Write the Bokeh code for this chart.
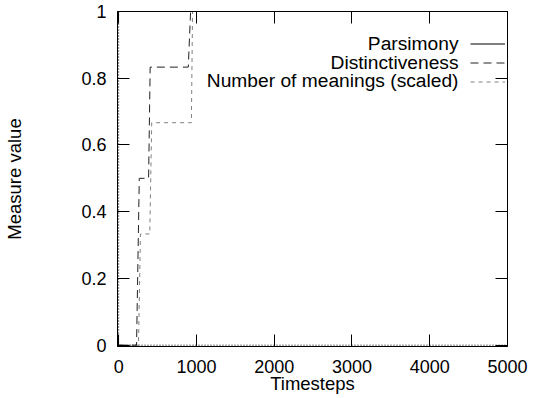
from bokeh.plotting import figure
from bokeh.models import (FixedTicker, NumeralTickFormatter, BasicTickFormatter, LinearAxis,
                          Span, Legend, LegendItem, Label, Range1d, CustomJSTickFormatter)
from bokeh.embed import file_html
from bokeh.resources import INLINE

# ---- data ----
timesteps_parsimony = [0, 5000]
parsimony = [1, 1]

timesteps_distinct = [0, 230, 265, 385, 405, 895, 925, 5000]
distinctiveness = [0, 0, 0.5, 0.5, 0.8333, 0.8333, 1, 1]

timesteps_meanings = [0, 255, 280, 400, 425, 935, 950, 5000]
meanings_scaled = [0, 0, 0.3333, 0.3333, 0.6667, 0.6667, 1, 1]

series_names = ["Parsimony", "Distinctiveness", "Number of meanings (scaled)"]
x_ticks = [0, 1000, 2000, 3000, 4000, 5000]
y_ticks = [0, 0.2, 0.4, 0.6, 0.8, 1]

FONT = "Liberation Sans"
FS = "18.5px"
TICK_FS = "18px"
LEG_FS = "19.2px"

p = figure(frame_width=390, frame_height=335, output_backend="svg", toolbar_location=None,
           x_range=Range1d(-15, 5000), y_range=Range1d(-0.004, 1),
           min_border_left=117, min_border_right=47, min_border_top=11, min_border_bottom=52,
           x_axis_label="Timesteps", y_axis_label="Measure value")
p.background_fill_color = "white"
p.border_fill_color = "white"
p.outline_line_color = "black"
p.outline_line_width = 1
p.xgrid.visible = False
p.ygrid.visible = False

for ax, ticks in ((p.xaxis[0], x_ticks), (p.yaxis[0], y_ticks)):
    ax.ticker = FixedTicker(ticks=ticks)
    ax.major_tick_in = 12
    ax.major_tick_out = 0
    ax.minor_tick_line_color = None
    ax.major_tick_line_color = "black"
    ax.axis_line_color = "black"
    ax.major_label_text_font = FONT
    ax.major_label_text_font_size = TICK_FS
    ax.major_label_text_color = "black"
    ax.axis_label_text_font = FONT
    ax.axis_label_text_font_size = FS
    ax.axis_label_text_font_style = "normal"
    ax.axis_label_text_color = "black"

p.yaxis[0].formatter = NumeralTickFormatter(format="0.[0]")
p.xaxis[0].formatter = BasicTickFormatter(use_scientific=False)
p.yaxis[0].major_label_standoff = 11
p.yaxis[0].axis_label_standoff = 53
p.xaxis[0].major_label_standoff = 13
p.xaxis[0].axis_label_standoff = -3

# mirror ticks (right / top), no labels
for side, ticks in (("right", y_ticks), ("above", x_ticks)):
    ax = LinearAxis(ticker=FixedTicker(ticks=ticks), major_tick_in=12, major_tick_out=0,
                    minor_tick_line_color=None, major_label_text_font_size="1px",
                    formatter=CustomJSTickFormatter(code="return ''"),
                    major_label_standoff=0, axis_line_color="black")
    p.add_layout(ax, side)

# zero axes (dotted)
p.add_layout(Span(location=0, dimension="height", line_color="black", line_width=1, line_dash="1 2"))
p.add_layout(Span(location=0, dimension="width", line_color="black", line_width=1, line_dash="1 2"))

r_meanings = p.line(timesteps_meanings, meanings_scaled, line_color="#808080", line_width=1,
                    line_dash="4 4")
r_distinct = p.line(timesteps_distinct, distinctiveness, line_color="#222222", line_width=1,
                    line_dash="8 5")
r_pars = p.line(timesteps_parsimony, parsimony, line_color="black", line_width=1)

legend = Legend(items=[LegendItem(label=" ", renderers=[r]) for r in (r_pars, r_distinct, r_meanings)],
                location=(353, 255), orientation="vertical", glyph_width=35, glyph_height=19,
                label_height=1, label_width=1, label_standoff=0, label_text_font_size="1px",
                spacing=0, padding=0, margin=0, border_line_color=None,
                background_fill_alpha=0)
p.add_layout(legend)

for name, yy in zip(series_names, (303, 284, 266)):
    p.add_layout(Label(x=341, y=yy, x_units="screen", y_units="screen", text=name,
                       text_align="right", text_baseline="middle", text_font=FONT,
                       text_font_size=LEG_FS, text_color="black"))

open("out.html", "w").write(file_html(p, INLINE))
